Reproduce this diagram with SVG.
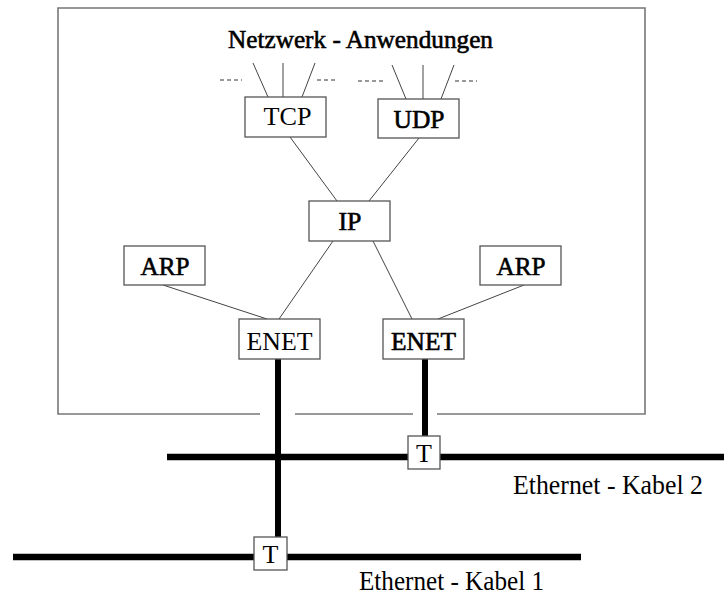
<svg xmlns="http://www.w3.org/2000/svg" width="724" height="595" viewBox="0 0 724 595">
  <style>
    .box { fill: #fff; stroke: #555; stroke-width: 1.3; }
    .frame { fill: none; stroke: #777; stroke-width: 1.6; }
    .thin { stroke: #444; stroke-width: 1; fill: none; }
    .cable { stroke: #000; stroke-width: 6.5; fill: none; }
    .tap { stroke: #000; stroke-width: 6; fill: none; }
    .lbl { font-family: "Liberation Serif", "Times New Roman", serif; font-size: 26px; fill: #000; text-anchor: middle; }
    .b { stroke: #000; stroke-width: 0.6; }
    .cap { font-family: "Liberation Serif", "Times New Roman", serif; font-size: 27px; fill: #000; }
    .dash { stroke: #333; stroke-width: 1; stroke-dasharray: 4 3; }
  </style>

  <!-- host frame, bottom edge broken where the cables pass -->
  <g id="host">
    <path class="frame" d="M260,414 H58 V8 H645 V414 H437 M413,414 H295"/>
    <text class="lbl b" x="360.5" y="48" textLength="265" lengthAdjust="spacingAndGlyphs">Netzwerk - Anwendungen</text>
  </g>

  <!-- links between protocol modules -->
  <g id="connectors">
    <!-- application fan-out above TCP and UDP -->
    <line class="thin" x1="253" y1="63" x2="268" y2="97"/>
    <line class="thin" x1="283" y1="63" x2="283" y2="97"/>
    <line class="thin" x1="315" y1="63" x2="302" y2="97"/>
    <line class="thin" x1="392" y1="65" x2="406" y2="99"/>
    <line class="thin" x1="423" y1="65" x2="423" y2="99"/>
    <line class="thin" x1="454" y1="65" x2="441" y2="99"/>
    <line class="dash" x1="220" y1="80" x2="242" y2="80"/>
    <line class="dash" x1="317" y1="80" x2="338" y2="80"/>
    <line class="dash" x1="358" y1="81" x2="385" y2="81"/>
    <line class="dash" x1="455" y1="81" x2="477" y2="81"/>
    <!-- TCP/UDP to IP -->
    <line class="thin" x1="290" y1="137" x2="337" y2="201"/>
    <line class="thin" x1="419" y1="138" x2="369" y2="201"/>
    <!-- IP to ENET -->
    <line class="thin" x1="333" y1="241" x2="279" y2="319"/>
    <line class="thin" x1="373" y1="241" x2="412" y2="319"/>
    <!-- ARP to ENET -->
    <line class="thin" x1="163" y1="285" x2="267" y2="319"/>
    <line class="thin" x1="524" y1="285" x2="438" y2="319"/>
    <!-- Ethernet cables and drop lines -->
    <line class="cable" x1="167" y1="457" x2="724" y2="457"/>
    <line class="cable" x1="13" y1="557" x2="581" y2="557"/>
    <line class="tap" x1="278" y1="359" x2="278" y2="537"/>
    <line class="tap" x1="425" y1="359" x2="425" y2="436"/>
  </g>

  <g id="tcp">
    <rect class="box" x="245" y="97" width="81" height="40"/>
    <text class="lbl" x="287.5" y="124.5" textLength="48" lengthAdjust="spacingAndGlyphs">TCP</text>
  </g>
  <g id="udp">
    <rect class="box" x="378" y="99" width="81" height="39"/>
    <text class="lbl b" x="419" y="128" textLength="51" lengthAdjust="spacingAndGlyphs">UDP</text>
  </g>
  <g id="ip">
    <rect class="box" x="309" y="201" width="81" height="40"/>
    <text class="lbl b" x="350" y="229.5" textLength="23" lengthAdjust="spacingAndGlyphs">IP</text>
  </g>
  <g id="arp-left">
    <rect class="box" x="124" y="246" width="81" height="39"/>
    <text class="lbl b" x="165" y="274.5" textLength="49" lengthAdjust="spacingAndGlyphs">ARP</text>
  </g>
  <g id="arp-right">
    <rect class="box" x="480" y="246" width="81" height="39"/>
    <text class="lbl b" x="521" y="274.5" textLength="49" lengthAdjust="spacingAndGlyphs">ARP</text>
  </g>
  <g id="enet-left">
    <rect class="box" x="239" y="319" width="81" height="40"/>
    <text class="lbl" x="279.5" y="349.5" textLength="66" lengthAdjust="spacingAndGlyphs">ENET</text>
  </g>
  <g id="enet-right">
    <rect class="box" x="383" y="319" width="81" height="40"/>
    <text class="lbl b" x="423.5" y="349.5" textLength="65" lengthAdjust="spacingAndGlyphs">ENET</text>
  </g>
  <g id="tap-cable2">
    <rect class="box" x="408" y="436" width="32" height="33"/>
    <text class="lbl" x="424" y="462">T</text>
  </g>
  <g id="tap-cable1">
    <rect class="box" x="254" y="537" width="33" height="33"/>
    <text class="lbl" x="270.5" y="563">T</text>
  </g>

  <g id="cable-labels">
    <text class="cap" x="513" y="494" textLength="190" lengthAdjust="spacingAndGlyphs">Ethernet - Kabel 2</text>
    <text class="cap" x="359" y="590" textLength="185" lengthAdjust="spacingAndGlyphs">Ethernet - Kabel 1</text>
  </g>
</svg>
